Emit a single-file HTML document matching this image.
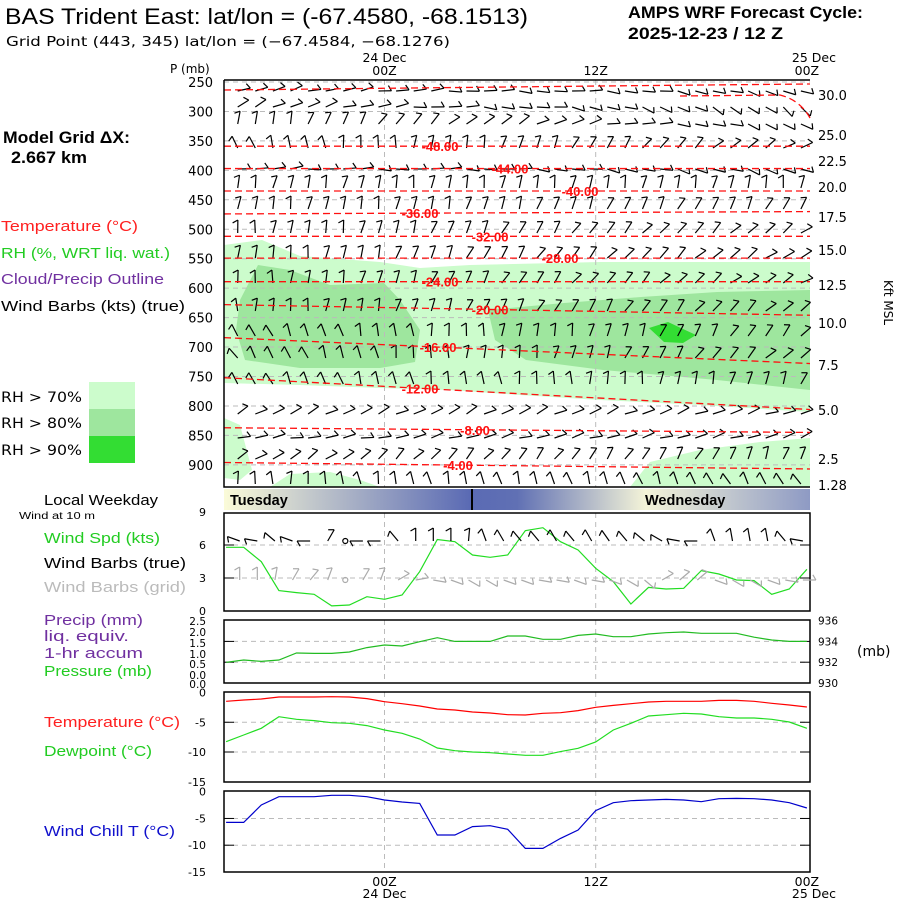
<!DOCTYPE html>
<html><head><meta charset="utf-8"><style>
body{margin:0;background:#fff;}
svg{display:block;}
text{font-family:"Liberation Sans",sans-serif;}
.m{font-family:"DejaVu Sans","Liberation Sans",sans-serif;}
</style></head><body>
<svg id="chart" width="900" height="900" viewBox="0 0 900 900" xmlns="http://www.w3.org/2000/svg">
<defs>
<linearGradient id="daygrad" x1="0" x2="1" y1="0" y2="0">
<stop offset="0" stop-color="#fbfbd8"/><stop offset="0.42" stop-color="#5a6ab4"/><stop offset="0.5" stop-color="#6070b4"/><stop offset="0.72" stop-color="#f4f4d8"/><stop offset="1" stop-color="#8e9ac4"/>
</linearGradient>
</defs>
<text x="5" y="24" font-size="22" textLength="523" lengthAdjust="spacingAndGlyphs">BAS Trident East:  lat/lon = (-67.4580, -68.1513)</text>
<text x="6" y="46" font-size="13.5" class="m" textLength="444" lengthAdjust="spacingAndGlyphs">Grid Point (443, 345) lat/lon = (−67.4584, −68.1276)</text>
<text x="628" y="18" font-size="16.5" font-weight="bold" textLength="235" lengthAdjust="spacingAndGlyphs">AMPS WRF Forecast Cycle:</text>
<text x="628" y="39" font-size="16.5" font-weight="bold" textLength="155" lengthAdjust="spacingAndGlyphs">2025-12-23 / 12  Z</text>
<text x="3" y="143" font-size="16.5" font-weight="bold" textLength="127" lengthAdjust="spacingAndGlyphs">Model Grid ΔX:</text>
<text x="11" y="163" font-size="16.5" font-weight="bold" textLength="76" lengthAdjust="spacingAndGlyphs">2.667 km</text>
<text x="1" y="231" font-size="14.5" fill="#ff2020" textLength="137" lengthAdjust="spacingAndGlyphs">Temperature (°C)</text>
<text x="1" y="258" font-size="14.5" fill="#22cc22" textLength="169" lengthAdjust="spacingAndGlyphs">RH (%, WRT liq. wat.)</text>
<text x="1" y="284" font-size="14.5" fill="#7030a0" textLength="163" lengthAdjust="spacingAndGlyphs">Cloud/Precip Outline</text>
<text x="1" y="311" font-size="14.5" fill="#000" textLength="184" lengthAdjust="spacingAndGlyphs">Wind Barbs (kts) (true)</text>
<rect x="89" y="382" width="46" height="27" fill="#ccfccc"/>
<rect x="89" y="409" width="46" height="27" fill="#9ee69e"/>
<rect x="89" y="436" width="46" height="27" fill="#33dd33"/>
<text x="1" y="402" font-size="14" class="m" textLength="81" lengthAdjust="spacingAndGlyphs">RH &gt; 70%</text>
<text x="1" y="428" font-size="14" class="m" textLength="81" lengthAdjust="spacingAndGlyphs">RH &gt; 80%</text>
<text x="1" y="455" font-size="14" class="m" textLength="81" lengthAdjust="spacingAndGlyphs">RH &gt; 90%</text>
<text x="44" y="505" font-size="14.5" textLength="114" lengthAdjust="spacingAndGlyphs">Local Weekday</text>
<text x="19" y="519" font-size="10" textLength="76" lengthAdjust="spacingAndGlyphs">Wind at 10 m</text>
<text x="44" y="543" font-size="14.5" fill="#22cc22" textLength="116" lengthAdjust="spacingAndGlyphs">Wind Spd (kts)</text>
<text x="44" y="568" font-size="14.5" textLength="142" lengthAdjust="spacingAndGlyphs">Wind Barbs (true)</text>
<text x="44" y="592" font-size="14.5" fill="#bbbbbb" textLength="142" lengthAdjust="spacingAndGlyphs">Wind Barbs (grid)</text>
<text x="44" y="625" font-size="14.5" fill="#7030a0" textLength="99" lengthAdjust="spacingAndGlyphs">Precip (mm)</text>
<text x="44" y="641" font-size="14.5" fill="#7030a0" textLength="85" lengthAdjust="spacingAndGlyphs">liq. equiv.</text>
<text x="44" y="658" font-size="14.5" fill="#7030a0" textLength="99" lengthAdjust="spacingAndGlyphs">1-hr accum</text>
<text x="44" y="676" font-size="14.5" fill="#22cc22" textLength="108" lengthAdjust="spacingAndGlyphs">Pressure (mb)</text>
<text x="44" y="727" font-size="14.5" fill="#ff2020" textLength="136" lengthAdjust="spacingAndGlyphs">Temperature (°C)</text>
<text x="44" y="756" font-size="14.5" fill="#22cc22" textLength="108" lengthAdjust="spacingAndGlyphs">Dewpoint (°C)</text>
<text x="44" y="836" font-size="14.5" fill="#1010cc" textLength="131" lengthAdjust="spacingAndGlyphs">Wind Chill T (°C)</text>
<text x="857" y="656" font-size="14" class="m">(mb)</text>
<text x="170" y="73" font-size="12" class="m">P (mb)</text>
<text transform="translate(884,280) rotate(90)" font-size="12" class="m">Kft MSL</text>
<g id="main"></g>
<g id="lower"></g>
</svg>
<script>
const hours=[-9,-8,-7,-6,-5,-4,-3,-2,-1,0,1,2,3,4,5,6,7,8,9,10,11,12,13,14,15,16,17,18,19,20,21,22,23,24];
const windSpd=[5.79,5.79,4.48,1.85,1.67,1.52,0.46,0.55,1.3,1.06,1.45,3.58,6.5,6.3,5.09,4.88,5.09,7.3,7.57,6.3,5.55,3.88,2.67,0.64,2.15,2.0,2.06,3.67,3.36,2.82,2.76,1.52,2.0,3.79];
const pressure=[931.99,932.21,932.08,932.21,932.88,932.85,932.85,932.98,933.4,933.65,933.56,933.97,934.36,934.0,934.0,934.0,934.52,934.52,934.2,934.2,934.58,934.71,934.45,934.45,934.71,934.84,934.9,934.78,934.78,934.78,934.4,934.13,934.0,934.0];
const temp=[-1.48,-1.26,-1.09,-0.76,-0.76,-0.76,-0.7,-0.76,-1.03,-1.54,-1.88,-2.27,-2.77,-2.94,-3.28,-3.44,-3.73,-3.78,-3.5,-3.39,-3.05,-2.49,-2.16,-1.88,-1.6,-1.48,-1.48,-1.48,-1.32,-1.32,-1.48,-1.82,-2.1,-2.44];
const dewpt=[-8.27,-7.14,-6.02,-4.06,-4.51,-4.73,-5.07,-5.18,-5.57,-6.3,-6.86,-7.82,-9.33,-9.78,-10.0,-10.11,-10.34,-10.56,-10.56,-9.94,-9.38,-8.32,-6.3,-5.18,-3.95,-3.73,-3.5,-3.61,-4.06,-4.28,-4.28,-4.51,-4.96,-6.02];
const windChill=[-5.73,-5.73,-2.49,-0.93,-0.93,-0.93,-0.68,-0.68,-0.93,-1.56,-1.93,-2.18,-8.09,-8.09,-6.53,-6.35,-7.03,-10.59,-10.59,-8.72,-7.16,-3.54,-2.05,-1.68,-1.56,-1.43,-1.56,-1.87,-1.31,-1.25,-1.31,-1.56,-2.05,-3.05];
const barbTrue=[-60,-70,-80,-50,-70,-90,30,999,-90,-90,-40,0,0,0,5,-20,-30,-40,-40,-30,-40,-30,-35,-40,-50,-60,-80,-90,-20,-10,-10,-10,-40,-80];
const barbGrid=[0,0,0,10,30,40,20,999,30,20,60,80,100,110,120,120,110,110,100,100,110,100,110,120,130,60,50,50,110,120,120,110,100,90];
const pLevels=[250,300,350,400,450,500,550,600,650,700,750,800,850,900];
const kftLabels=["30.0","25.0","22.5","20.0","17.5","15.0","12.5","10.0","7.5","5.0","2.5","1.28"];
const kftY=[95,135,161,187,217,250,285,323,365,410,459,485];
const tempContours=[-48,-44,-40,-36,-32,-28,-24,-20,-16,-12,-8,-4];
const contourLeftP=[359,397,435,474,512,549,589,628,684,752,837,896];
const contourRightP=[359,397,435,470,512,549,589,646,728,806,845,907];
const contourLabelX=[440,510,580,420,490,560,440,490,438,420,475,458];

const NS="http://www.w3.org/2000/svg";
const X0=224,X1=810;
function xT(h){return 384.5+h*17.6;}
function yP(p){return 82+(p-250)*0.589;}
function yWind(v){return 611-v*11;}
function yPres(p){return 683-(p-930)*10.4;}
function yTemp(t){return 692.5-t*5.95;}
function yChill(t){return 791.7-t*5.35;}
function el(tag,attrs,parent){const e=document.createElementNS(NS,tag);for(const k in attrs)e.setAttribute(k,attrs[k]);parent.appendChild(e);return e;}
const main=document.getElementById('main');
const lower=document.getElementById('lower');

const light1="224,245 262,240 300,256 380,262 420,268 470,265 600,262 700,262 810,262 810,412 700,405 600,400 520,395 450,390 380,388 300,385 224,383";
const light2="630,487 650,462 700,450 760,442 810,438 810,487";
const light3="224,418 240,425 252,470 240,480 224,478";
const light4="270,487 290,474 330,472 360,480 380,487";
const med1="240,300 258,265 290,270 330,285 384,283 400,300 420,330 415,362 380,368 300,368 245,360 236,330";
const med2="488,310 564,303 641,297 717,292 810,290 810,390 717,380 603,370 526,360 495,340";
const dark1="649,328 668,322 696,335 683,343 664,342";
[[light1,'#ccfccc','rh70-region'],[light2,'#ccfccc','rh70-region'],[light3,'#ccfccc','rh70-region'],[light4,'#ccfccc','rh70-region'],[med1,'#9ee69e','rh80-region'],[med2,'#9ee69e','rh80-region'],[dark1,'#33dd33','rh90-region']].forEach(r=>{
  const e=el('polygon',{points:r[0],fill:r[1]},main);
  
  
});

pLevels.forEach(p=>{
  const y=yP(p);
  const g=el('line',{x1:X0,x2:X1,y1:y,y2:y,stroke:'#bbb','stroke-dasharray':'5,4'},main);
  
  
  const t=el('text',{x:213,y:y+5,'text-anchor':'end','font-size':13,class:'m'},main);
  t.textContent=p;
  
  
});
kftLabels.forEach((k,i)=>{
  const t=el('text',{x:818,y:kftY[i]+5,'font-size':13,class:'m'},main);
  t.textContent=k;
  
  
});
[0,12].forEach(h=>{
  const v=el('line',{x1:xT(h),x2:xT(h),y1:80,y2:487,stroke:'#bbb','stroke-dasharray':'5,4'},main);
  
  
});

const rowY=[85,101,118,142,163,182,203,227,252,277,305,330,352,378,408,432,453,478];
const rowA0=[70,60,0,-25,80,10,5,0,0,0,0,-30,-35,-30,60,80,60,0];
const rowA1=[110,130,120,60,110,10,30,55,60,60,50,40,50,20,70,70,20,-30];
function barb(x,y,a,parent,col,name){
  const g=el('g',{stroke:col,'stroke-width':1.2,fill:'none'},parent);
  
  
  if(a===999){el('circle',{cx:x,cy:y,r:2.5},g);return;}
  const r=a*Math.PI/180,L=13;
  const ex=x+L*Math.sin(r),ey=y-L*Math.cos(r);
  el('line',{x1:x,y1:y,x2:ex,y2:ey},g);
  const r2=(a-120)*Math.PI/180;
  el('line',{x1:ex,y1:ey,x2:ex+6*Math.sin(r2),y2:ey-6*Math.cos(r2)},g);
}
rowY.forEach((y,ri)=>{
  hours.forEach((h,i)=>{
    const x=xT(h)-6;
    if(x<X0+2||x>X1-6)return;
    const f=i/(hours.length-1);
    const a=rowA0[ri]+(rowA1[ri]-rowA0[ri])*f+((i*37+ri*11)%21-10);
    barb(x,y+6,a,main,'#000','upper-wind-barb');
  });
});

tempContours.forEach((c,i)=>{
  const yl=yP(contourLeftP[i]),yr=yP(contourRightP[i]);
  const l=el('line',{x1:X0,x2:X1,y1:yl,y2:yr,stroke:'#ff1010','stroke-width':1.3,'stroke-dasharray':'7,4'},main);
  
  
  const lx=contourLabelX[i];
  const ly=yl+(yr-yl)*(lx-X0)/(X1-X0);
  const t=el('text',{x:lx,y:ly+5,'text-anchor':'middle','font-size':13,'font-weight':'bold',fill:'#ff1010'},main);
  t.textContent=c.toFixed(2);
  
  
});
const topC=el('path',{d:'M224,90 L600,86 L810,84 M680,96 L780,95 Q800,100 810,118',stroke:'#ff1010','stroke-width':1.3,fill:'none','stroke-dasharray':'7,4'},main);


const frame=el('path',{d:'M224,80 L224,487 L810,487 M224,80 L810,80',stroke:'#000','stroke-width':1.5,fill:'none'},main);



[[0,'24 Dec'],[12,null],[24,'25 Dec']].forEach(d=>{
  const x=xT(d[0]);
  [[75,62],[886,898]].forEach((ys,k)=>{
    const t=el('text',{x:x,y:ys[0],'text-anchor':'middle','font-size':12.5,class:'m'},main);
    t.textContent=(d[0]===12?'12Z':'00Z');
    
    
    if(d[1]){
      const t2=el('text',{x:x>800?836:x,y:ys[1],'text-anchor':x>800?'end':'middle','font-size':12.5,class:'m'},main);
      t2.textContent=d[1];
      
      
    }
  });
});

const db=el('rect',{x:X0,y:489,width:X1-X0,height:21,fill:'url(#daygrad)'},lower);


const dl=el('line',{x1:472,x2:472,y1:489,y2:510,stroke:'#000','stroke-width':2},lower);


[['Tuesday',230],['Wednesday',645]].forEach(d=>{
  const t=el('text',{x:d[1],y:505,'font-size':14.5,'font-weight':'bold'},lower);
  t.textContent=d[0];
  
  
});

const panels=[
  {y0:513,y1:611,name:'wind-panel',grid:[yWind(3),yWind(6)],left:[['9',yWind(9)],['6',yWind(6)],['3',yWind(3)],['0',yWind(0)]]},
  {y0:620,y1:683,name:'pressure-panel',grid:[yPres(932),yPres(934)],left:[['2.5',621],['2.0',632],['1.5',643],['1.0',654],['0.5',664],['0.0',675],['0.0',684]],right:[['936',yPres(936)],['934',yPres(934)],['932',yPres(932)],['930',yPres(930)]]},
  {y0:692,y1:782,name:'temperature-panel',grid:[yTemp(-5),yTemp(-10)],left:[['0',yTemp(0)],['-5',yTemp(-5)],['-10',yTemp(-10)],['-15',yTemp(-15)]]},
  {y0:791,y1:872,name:'wind-chill-panel',grid:[yChill(-5),yChill(-10)],left:[['0',yChill(0)],['-5',yChill(-5)],['-10',yChill(-10)],['-15',yChill(-15)]]}
];
panels.forEach(pn=>{
  pn.grid.forEach(y=>{
    const g=el('line',{x1:X0,x2:X1,y1:y,y2:y,stroke:'#bbb','stroke-dasharray':'5,4'},lower);
    
    
    el('line',{x1:X0,x2:X0+10,y1:y,y2:y,stroke:'#000'},lower);
    el('line',{x1:X1-10,x2:X1,y1:y,y2:y,stroke:'#000'},lower);
  });
  [0,12].forEach(h=>{
    const v=el('line',{x1:xT(h),x2:xT(h),y1:pn.y0,y2:pn.y1,stroke:'#bbb','stroke-dasharray':'5,4'},lower);
    
    
  });
  pn.left.forEach(l=>{
    const t=el('text',{x:206,y:l[1]+4,'text-anchor':'end','font-size':pn.name==='pressure-panel'?10.5:11,class:'m'},lower);
    t.textContent=l[0];
    
    
  });
  (pn.right||[]).forEach(l=>{
    const t=el('text',{x:818,y:l[1]+4,'font-size':10.5,class:'m'},lower);
    t.textContent=l[0];
    
    
  });
  const b=el('rect',{x:X0,y:pn.y0,width:X1-X0,height:pn.y1-pn.y0,fill:'none',stroke:'#000','stroke-width':1.5},lower);
  
  
});

function series(vals,yf,col,name){
  const pts=hours.map((h,i)=>xT(h).toFixed(1)+','+yf(vals[i]).toFixed(1)).join(' ');
  const pl=el('polyline',{points:pts,fill:'none',stroke:col,'stroke-width':1.2},lower);
  
  
}
series(windSpd,yWind,'#22dd22','wind-speed-line');
series(pressure,yPres,'#22bb22','pressure-line');
series(temp,yTemp,'#ff0000','temperature-line');
series(dewpt,yTemp,'#22dd22','dewpoint-line');
series(windChill,yChill,'#0000cc','wind-chill-line');

hours.forEach((h,i)=>{
  const x=xT(h)-4;
  if(x<X0)return;
  barb(x,541,barbTrue[i],lower,'#000','surface-barb-true');
  barb(x,580,barbGrid[i],lower,'#aaa','surface-barb-grid');
});
</script>
</body></html>
